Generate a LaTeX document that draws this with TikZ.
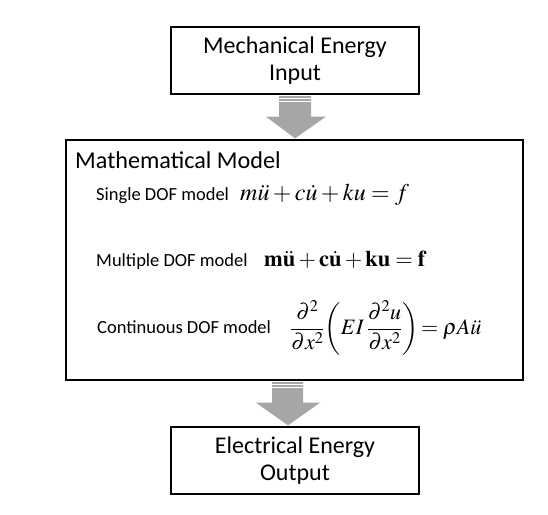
\documentclass[tikz,border=0pt]{standalone}
\usepackage{amsmath}
\usepackage{mathptmx}
\usepackage[no-math]{fontspec}
\setmainfont{Carlito}
\usetikzlibrary{calc}
\definecolor{arrgray}{HTML}{A6A6A6}
\tikzset{
  box/.style={draw=black, line width=1.3pt, fill=white, inner sep=0pt},
  bigtxt/.style={font=\fontsize{24}{27}\selectfont, align=center},
  lbl/.style={font=\fontsize{18.5}{21}\selectfont, anchor=base west, inner sep=0pt},
  eqn/.style={font=\fontsize{24}{28}\selectfont, inner sep=0pt},
  blockarrow/.style={fill=arrgray, draw=none}
}
\begin{document}
\begin{tikzpicture}[x=1pt,y=-1pt]
\useasboundingbox (0,0) rectangle (548,514);
% boxes
\node[box, minimum width=248pt, minimum height=67pt] (top) at (295,60.5) {};
\node[box, minimum width=457pt, minimum height=240pt] (main) at (294.5,260) {};
\node[box, minimum width=248pt, minimum height=67pt] (bot) at (295,460.5) {};
% box texts
\node[bigtxt] (toptxt) at (top.center) {Mechanical Energy\\Input};
\node[bigtxt] (bottxt) at (bot.center) {Electrical Energy\\Output};
\node[font=\fontsize{24.2}{28}\selectfont, anchor=base west, inner sep=0pt] (mtitle) at (75,168) {Mathematical Model};
% labels
\node[lbl] (l1) at (96,200) {Single DOF model};
\node[lbl] (l2) at (96,266) {Multiple DOF model};
\node[lbl] (l3) at (97,333) {Continuous DOF model};
% equations
\node[eqn, anchor=base west] (e1) at (240,200) {$m\ddot{u}+c\dot{u}+ku=f$};
\node[eqn, anchor=base west, font=\fontsize{22.5}{26}\selectfont] (e2) at (264,266) {$\mathbf{m}\ddot{\mathbf{u}}+\mathbf{c}\dot{\mathbf{u}}+\mathbf{k}\mathbf{u}=\mathbf{f}$};
\node[eqn, anchor=west, font=\fontsize{22}{26}\selectfont] (e3) at (290,328) {$\dfrac{\partial^2}{\partial x^2}\!\left(EI\,\dfrac{\partial^2 u}{\partial x^2}\right)\!=\rho A\ddot{u}$};
% upper block arrow
\coordinate (a1) at ($(top.south)+(0,1)$);
\fill[blockarrow] ($(a1)+(-16,0.5)$) -- ($(a1)+(16,0.5)$) -- ($(a1)+(16,21)$) -- ($(a1)+(31,21)$)
  -- ($(main.north)+(0.5,-1)$) -- ($(a1)+(-29,21)$) -- ($(a1)+(-16,21)$) -- cycle;
\draw[white, line width=0.9pt] ($(a1)+(-17,2.4)$) -- ($(a1)+(17,2.4)$);
\draw[white, line width=0.9pt] ($(a1)+(-17,5.4)$) -- ($(a1)+(17,5.4)$);
% lower block arrow
\coordinate (a2) at ($(main.south)+(-6.5,1)$);
\coordinate (tip2) at ($(bot.north)+(-7,-1)$);
\fill[blockarrow] ($(a2)+(-16,0.5)$) -- ($(a2)+(15,0.5)$) -- ($(a2)+(15,21)$) -- ($(a2)+(32,21)$)
  -- (tip2) -- ($(a2)+(-32,21)$) -- ($(a2)+(-16,21)$) -- cycle;
\draw[white, line width=0.9pt] ($(a2)+(-17,2.4)$) -- ($(a2)+(16,2.4)$);
\draw[white, line width=0.9pt] ($(a2)+(-17,5.4)$) -- ($(a2)+(16,5.4)$);
% redraw box borders over arrow tips
\draw[line width=1.3pt] (top.south west) -- (top.south east);
\draw[line width=1.3pt] (main.north west) -- (main.north east);
\draw[line width=1.3pt] (main.south west) -- (main.south east);
\draw[line width=1.3pt] (bot.north west) -- (bot.north east);
\end{tikzpicture}
\end{document}
